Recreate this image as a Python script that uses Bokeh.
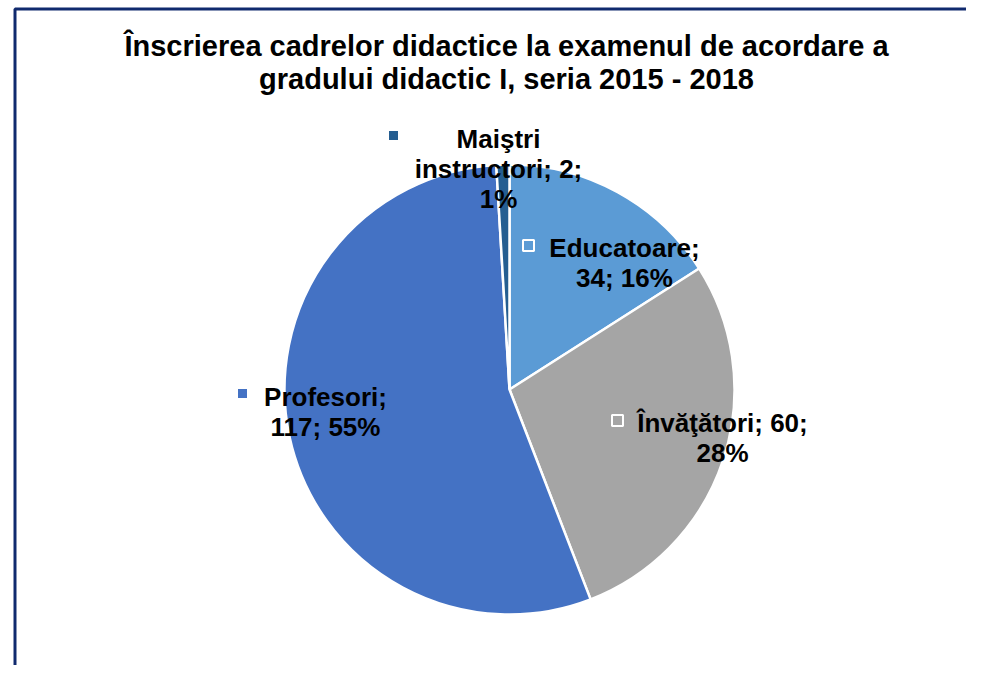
import math
from bokeh.plotting import figure
from bokeh.models import Range1d, ColumnDataSource
from bokeh.core.properties import value
from bokeh.embed import file_html
from bokeh.resources import INLINE

# ---- data ----
categories = ["Educatoare", "Înv\u0103\u0163\u0103tori", "Profesori", "Mai\u015ftri instructori"]
counts = [34, 60, 117, 2]
colors = ["#5B9BD5", "#A5A5A5", "#4472C4", "#255E91"]
title_lines = ["Înscrierea cadrelor didactice la examenul de acordare a",
               "gradului didactic I, seria 2015 - 2018"]

# ---- layout (screen pixels, relative to pie centre) ----
W, H = 966, 665
CX, CY = 509, 389          # pie centre (screen)
R = 225
label_off = [(115, -127), (213, 48), (-184, 22), (-11, -221)]
marker_off = [(19, -144), (108, 31), (-267, 4), (-116, -254)]
wraps = ["{c};\n{v}; {p}%", "{c}; {v};\n{p}%", "{c};\n{v}; {p}%", "{c0}\n{c1}; {v};\n{p}%"]

total = sum(counts)
starts, ends, texts = [], [], []
cum = 0
for c, v, w in zip(categories, counts, wraps):
    starts.append(math.pi / 2 - 2 * math.pi * cum / total)
    cum += v
    ends.append(math.pi / 2 - 2 * math.pi * cum / total)
    p_ = round(v / total * 100)
    parts = c.split(" ", 1)
    texts.append(w.format(c=c, v=v, p=p_, c0=parts[0], c1=parts[-1]))

p = figure(width=W, height=H, output_backend="svg", toolbar_location=None,
           x_range=Range1d(0, W), y_range=Range1d(-H, 0),
           min_border=0, outline_line_color=None)
p.axis.visible = False
p.grid.visible = False
p.background_fill_color = "white"
p.border_fill_color = "white"

src = ColumnDataSource(dict(cat=categories, v=counts, color=colors,
                            start=starts, end=ends, text=texts,
                            x=[CX] * 4, y=[-CY] * 4,
                            lx=[CX + o[0] for o in label_off],
                            ly=[-(CY + o[1]) for o in label_off],
                            mx=[CX + o[0] for o in marker_off],
                            my=[-(CY + o[1]) for o in marker_off]))

p.wedge(x="x", y="y", radius=R, start_angle="start", end_angle="end",
        direction="clock", fill_color="color", line_color="white",
        line_width=2.5, source=src)

p.scatter(x="mx", y="my", marker="square", size=11, fill_color="color",
          line_color="white", line_width=2, source=src)

p.text(x="lx", y="ly", text="text", source=src, text_align="center",
       text_baseline="middle", text_font=value("Liberation Sans"),
       text_font_style="bold", text_font_size="26px", text_color="black",
       text_line_height=1.0)

p.text(x=[506], y=[-62], text=["\n".join(title_lines)], text_align="center",
       text_baseline="middle", text_font=value("Liberation Sans"),
       text_font_style="bold", text_font_size="29px", text_color="black",
       text_line_height=1.05)

# frame lines (top and left)
p.line(x=[14.5, 14.5, W], y=[-H, -8.5, -8.5], line_color="#102A6E",
       line_width=3)

open("out.html", "w").write(file_html(p, INLINE))
